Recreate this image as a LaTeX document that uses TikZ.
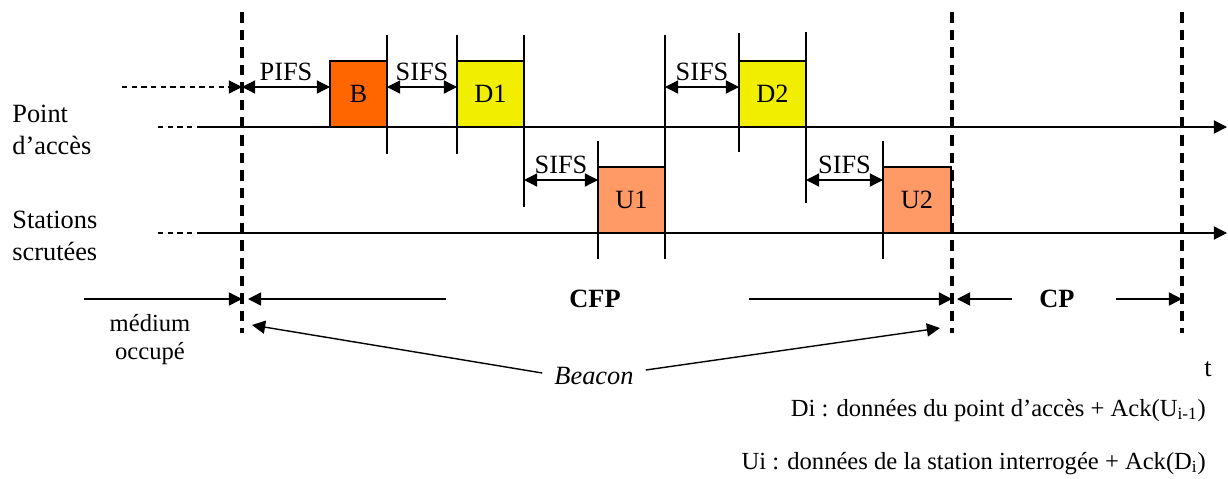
\documentclass[tikz,border=0pt]{standalone}
\usepackage{fontspec}
\setmainfont{Liberation Serif}
\usetikzlibrary{arrows.meta}
\definecolor{beaconc}{HTML}{FF6600}
\definecolor{downc}{HTML}{F2EE00}
\definecolor{upc}{HTML}{FF9966}
\begin{document}
\begin{tikzpicture}[x=0.02cm,y=-0.02cm,
    >={Triangle[length=7.5pt,width=7.5pt]},
    every node/.style={font=\fontsize{15}{18}\selectfont},
    trame/.style={draw,line width=0.8pt,inner sep=0pt,outer sep=0pt,minimum height=1.32cm},
    tick/.style={line width=0.7pt},
    axe/.style={line width=0.8pt},
    limite/.style={line width=2pt,dash pattern=on 6pt off 4pt},
    pointille/.style={line width=0.7pt,dash pattern=on 3pt off 2.5pt},
    legende/.style={anchor=base east,font=\fontsize{14}{17}\selectfont}]
    \useasboundingbox (0,0) rectangle (1228,478);
    % axes
    \draw[pointille] (158,127) -- (198,127);
    \draw[pointille] (158,233) -- (198,233);
    \draw[axe,->] (198,127) -- (1227,127);
    \draw[axe,->] (198,233) -- (1227,233);
    \node[anchor=north west,align=left,inner sep=0pt] (ap) at (12,105) {Point\\d'accès};
    \node[anchor=north west,align=left,inner sep=0pt] (st) at (12,211) {Stations\\scrutées};
    % trames
    \node[trame,fill=beaconc,minimum width=1.14cm] (B) at (358.5,94) {B};
    \node[trame,fill=downc,minimum width=1.34cm] (D1) at (490.5,94) {D1};
    \node[trame,fill=upc,minimum width=1.34cm] (U1) at (631.5,200) {U1};
    \node[trame,fill=downc,minimum width=1.34cm] (D2) at (772.5,94) {D2};
    \node[trame,fill=upc,minimum width=1.36cm] (U2) at (917,200) {U2};
    % reperes
    \draw[tick] (387,35) -- (387,154);
    \draw[tick] (457,35) -- (457,154);
    \draw[tick] (524,35) -- (524,207);
    \draw[tick] (598,141) -- (598,259);
    \draw[tick] (665,35) -- (665,259);
    \draw[tick] (739,33) -- (739,152);
    \draw[tick] (806,32) -- (806,203);
    \draw[tick] (883,141) -- (883,259);
    % limites
    \coordinate (l1h) at (242,12);
    \coordinate (l1b) at (242,333);
    \coordinate (l2h) at (952,12);
    \coordinate (l2b) at (952,333);
    \coordinate (l3h) at (1182,12);
    \coordinate (l3b) at (1182,333);
    \draw[limite] (l1h) -- (l1b);
    \draw[limite] (l2h) -- (l2b);
    \draw[limite] (l3h) -- (l3b);
    % intervalles
    \draw[pointille,->] (122,87) -- (242,87);
    \draw[tick,<->] (242,87) -- node[above] (pifs) {PIFS} (B.west |- 0,87);
    \draw[tick,<->] (B.east |- 0,87) -- node[above] (s1) {SIFS} (D1.west |- 0,87);
    \draw[tick,<->] (D1.east |- 0,180) -- node[above] (s2) {SIFS} (U1.west |- 0,180);
    \draw[tick,<->] (U1.east |- 0,87) -- node[above] (s3) {SIFS} (D2.west |- 0,87);
    \draw[tick,<->] (D2.east |- 0,180) -- node[above] (s4) {SIFS} (U2.west |- 0,180);
    % periodes
    \node[font=\fontsize{15}{18}\selectfont\bfseries] (cfp) at (595,299) {CFP};
    \node[font=\fontsize{15}{18}\selectfont\bfseries] (cp) at (1057,299) {CP};
    \draw[axe,->] (84,299) -- (l1b |- 0,299);
    \draw[axe,->] (446,299) -- (248,299);
    \draw[axe,->] (749,299) -- (l2b |- 0,299);
    \draw[axe,->] (1012,299) -- (957,299);
    \draw[axe,->] (1116,299) -- (l3b |- 0,299);
    \node[align=center,font=\fontsize{14}{16}\selectfont] (occ) at (150,340) {médium\\occupé};
    \node[font=\fontsize{15}{18}\selectfont\itshape] (beacon) at (594,376) {Beacon};
    \draw[axe,->] (beacon.west) ++(-6,-3) -- (252,325);
    \draw[axe,->] (beacon.east) ++(6,-6) -- (940,328);
    \node (t) at (1208,369) {t};
    % legende
    \node[legende] (ld) at (1212,416) {Di : données du point d'accès + Ack(U\textsubscript{i-1})};
    \node[legende] (lu) at (1212,469) {Ui : données de la station interrogée + Ack(D\textsubscript{i})};
\end{tikzpicture}
\end{document}
